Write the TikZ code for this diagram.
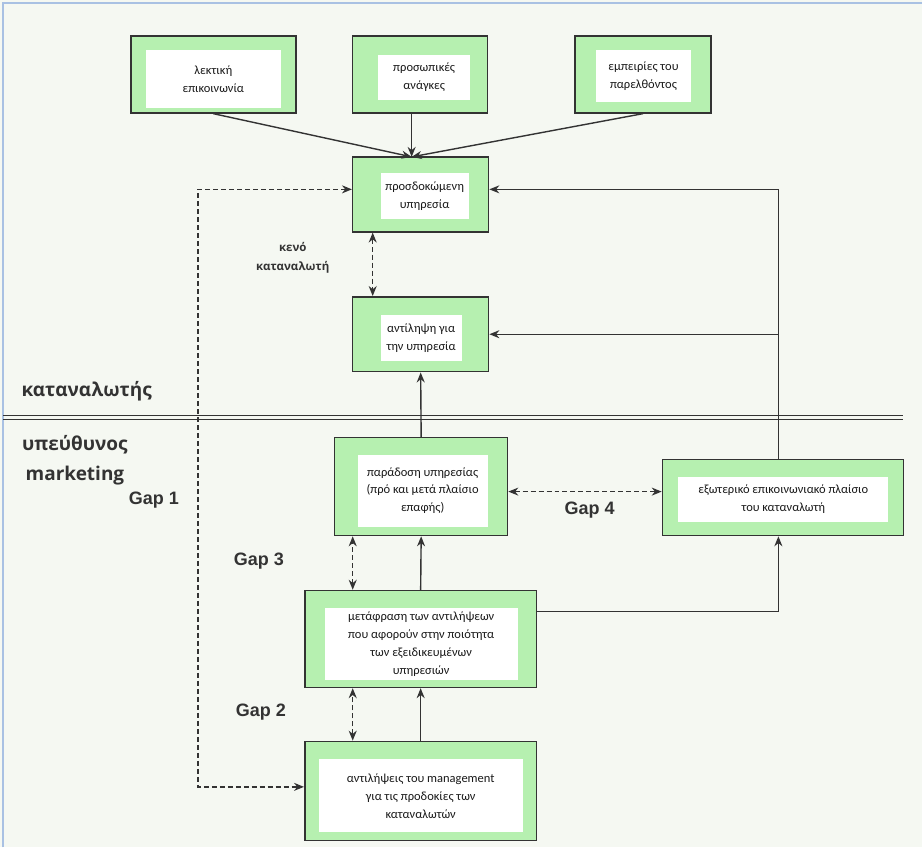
\documentclass[tikz,border=0pt]{standalone}
\usepackage{fontspec}
\setmainfont{Carlito}
\newfontfamily\sidefont{Open Sans}
\newfontfamily\gapfont{Liberation Sans}
\usepackage{xcolor}
\usetikzlibrary{arrows.meta, positioning, calc}
\definecolor{boxgreen}{HTML}{B6F0B0}
\definecolor{bgcol}{HTML}{F5F8F2}
\definecolor{framecol}{HTML}{A9C1E3}
\definecolor{linecol}{HTML}{333333}
\tikzstyle{arrow} = [line width=1.4pt, draw=linecol, -{Stealth[length=10pt,width=8pt]}]
\tikzstyle{gaparrow} = [line width=1.4pt, draw=linecol, {Stealth[length=10pt,width=8pt]}-{Stealth[length=10pt,width=8pt]}, dash pattern=on 5pt off 3pt]

\begin{document}
\begin{tikzpicture}[x=1pt, y=-1pt,
    box/.style={draw=black!80, line width=1.5pt, fill=boxgreen, inner sep=0pt},
    inner/.style={fill=white, inner sep=0pt, align=center, text=black!90,
        font=\fontsize{12.5}{18}\selectfont},
    gap/.style={font=\gapfont\bfseries\fontsize{18}{20}\selectfont, text=black!80},
    side/.style={font=\sidefont\bfseries\fontsize{19}{30}\selectfont, text=black!80, align=center},
]
    % background and frame
    \fill[bgcol] (0,0) rectangle (923,848);
    \draw[framecol, line width=1.5pt] (3,848) -- (3,3) -- (923,3);
    \useasboundingbox (0,0) rectangle (923,848);

    % sources of expectation
    \node[box, minimum width=165pt, minimum height=77pt] (verbal) at (213.5,74.5) {};
    \node[inner, minimum width=135pt, minimum height=58pt] at (213.5,79) {λεκτική\\επικοινωνία};
    \node[box, minimum width=135pt, minimum height=77pt] (needs) at (420.5,74.5) {};
    \node[inner, minimum width=92pt, minimum height=45pt] at (424.5,77.5) {προσωπικές\\ανάγκες};
    \node[box, minimum width=136pt, minimum height=77pt] (past) at (643.5,74.5) {};
    \node[inner, minimum width=95pt, minimum height=52pt] at (644,76) {εμπειρίες του\\παρελθόντος};

    % consumer side
    \node[box, minimum width=136pt, minimum height=75pt] (expected) at (421,194.5) {};
    \node[inner, minimum width=88pt, minimum height=46pt] at (425,196) {προσδοκώμενη\\υπηρεσία};
    \node[box, minimum width=136pt, minimum height=75pt] (perceived) at (421,334.5) {};
    \node[inner, minimum width=81pt, minimum height=46pt] at (421.5,338) {αντίληψη για\\την υπηρεσία};

    % marketer side
    \node[box, minimum width=173pt, minimum height=98pt] (delivery) at (421.5,487) {};
    \node[inner, minimum width=130pt, minimum height=72pt] at (423,491) {παράδοση υπηρεσίας\\(πρό και μετά πλαίσιο\\επαφής)};
    \node[box, minimum width=241pt, minimum height=76pt] (external) at (783.5,498) {};
    \node[inner, minimum width=210pt, minimum height=45pt] at (784,499.5) {εξωτερικό επικοινωνιακό πλαίσιο\\του καταναλωτή};
    \node[box, minimum width=232pt, minimum height=97pt] (translate) at (421,639.5) {};
    \node[inner, minimum width=193pt, minimum height=73pt] at (421.5,644.5) {μετάφραση των αντιλήψεων\\που αφορούν στην ποιότητα\\των εξειδικευμένων\\υπηρεσιών};
    \node[box, minimum width=232pt, minimum height=99pt] (mgmt) at (421,791.5) {};
    \node[inner, minimum width=204pt, minimum height=73pt] at (421,796.5) {αντιλήψεις του management\\για τις προδοκίες των\\καταναλωτών};

    % helper coordinates
    \coordinate (conv) at (412,157);
    \coordinate (rightline) at (779,0);
    \coordinate (leftcol) at (198,500);
    \coordinate (gapcol) at (353,0);
    \coordinate (gapE) at (373,0);
    \coordinate (gap4y) at (0,492);
    \coordinate (tline) at (0,612);

    % separator
    \draw[linecol, line width=1.3pt] (3,415.5) -- (904,415.5);
    \draw[linecol, line width=1.3pt] (3,419.5) -- (904,419.5);

    % connections
    \draw[arrow] (verbal.south) -- (conv);
    \draw[arrow] (needs.south -| conv) -- (conv);
    \draw[arrow] (past.south) -- (conv);
    \draw[gaparrow] (expected.south -| gapE) -- (perceived.north -| gapE);
    \draw[arrow] (external.north -| rightline) |- ([yshift=5pt]expected.east);
    \draw[arrow] (rightline |- perceived.east) -- (perceived.east);
    \draw[arrow] (delivery.north) -- (perceived.south);
    \draw[gaparrow] (delivery.east |- gap4y) -- (external.west |- gap4y);
    \draw[arrow] (translate.north) -- (delivery.south);
    \draw[gaparrow] (translate.north -| gapcol) -- (delivery.south -| gapcol);
    \draw[arrow] (translate.east |- tline) -| (external.south -| rightline);
    \draw[arrow] (mgmt.north) -- (translate.south);
    \draw[gaparrow] (mgmt.north -| gapcol) -- (translate.south -| gapcol);
    \draw[gaparrow] ([yshift=5pt]expected.west) -| (leftcol) |- ([yshift=4pt]mgmt.west);

    % labels
    \node[font=\sidefont\bfseries\fontsize{11.5}{19}\selectfont, text=black!80, align=center] (gap5) at (293,258) {κενό\\καταναλωτή};
    \node[side, anchor=west] (consumer) at (18,392) {καταναλωτής};
    \node[side] (marketer) at (75,461) {υπεύθυνος\\marketing};
    \node[gap] (gap1) at (154,500) {Gap 1};
    \node[gap] (gap3) at (259,562) {Gap 3};
    \node[gap] (gap2) at (261,713) {Gap 2};
    \node[gap] (gap4) at (590,510) {Gap 4};
\end{tikzpicture}
\end{document}
